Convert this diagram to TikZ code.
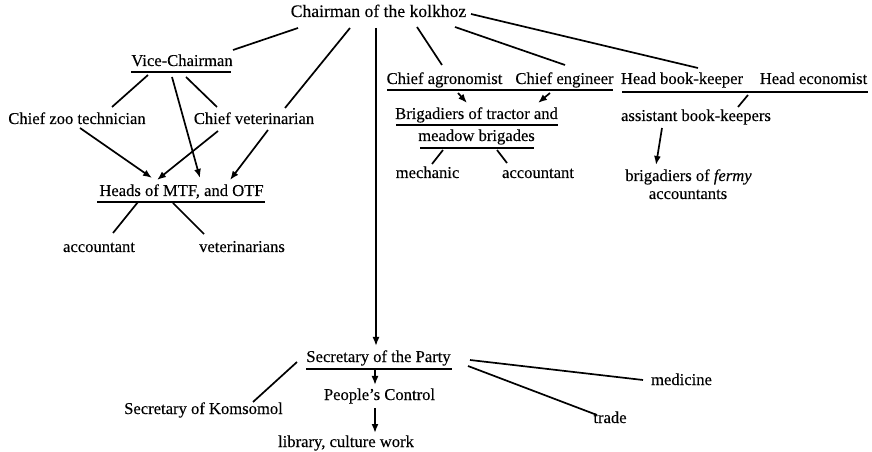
\documentclass[tikz,border=0pt]{standalone}
\usepackage{fontspec}
\setmainfont{Liberation Serif}[FakeBold=0.2]
\usetikzlibrary{arrows.meta}
\begin{document}
\begin{tikzpicture}[x=1bp,y=-1bp,
  lbl/.style={inner sep=0pt, text height=11.5bp, text depth=3.5bp,
              font=\fontsize{16.6bp}{19bp}\selectfont},
  title/.style={lbl, font=\fontsize{17.6bp}{20bp}\selectfont},
  ln/.style={line width=1.7bp},
  arr/.style={ln, -{Latex[length=9bp,width=7bp]}},
  uline/.style={line width=1.6bp}]
\useasboundingbox[fill=white] (0,0) rectangle (872,452);

% ---- nodes ----
\node[title] (chair) at (378.5,13) {Chairman of the kolkhoz};
\node[lbl] (vice)  at (182,62)   {Vice-Chairman};
\node[lbl] (zoo)   at (77,120)   {Chief zoo technician};
\node[lbl] (vet)   at (254,120)  {Chief veterinarian};
\node[lbl] (heads) at (181.5,192){Heads of MTF, and OTF};
\node[lbl] (acc1)  at (99,248)   {accountant};
\node[lbl] (vets)  at (242,248)  {veterinarians};

\node[lbl] (agr)   at (444.5,80) {Chief agronomist};
\node[lbl] (eng)   at (564.5,80) {Chief engineer};
\node[lbl] (hbk)   at (682,80)   {Head book-keeper};
\node[lbl] (hec)   at (813.5,80) {Head economist};
\node[lbl] (brig1) at (476.5,115){Brigadiers of tractor and};
\node[lbl] (brig2) at (476.5,137){meadow brigades};
\node[lbl] (mech)  at (427.5,174){mechanic};
\node[lbl] (acc2)  at (538,174)  {accountant};
\node[lbl] (asst)  at (696,117)  {assistant book-keepers};
\node[lbl] (ferm)  at (688.5,177){brigadiers of \textit{fermy}};
\node[lbl] (accs)  at (688,195)  {accountants};

\node[lbl] (party) at (378.5,358){Secretary of the Party};
\node[lbl] (pc)    at (379.5,396){People's Control};
\node[lbl] (lib)   at (346,443)  {library, culture work};
\node[lbl] (kom)   at (203.5,410){Secretary of Komsomol};
\node[lbl] (med)   at (681.5,381){medicine};
\node[lbl] (trade) at (610,419)  {trade};

% ---- underlines ----
\draw[uline] ([shift={(-51,10)}]vice.center) -- ([shift={(49,10)}]vice.center);
\draw[uline] ([shift={(-84.5,10)}]heads.center) -- ([shift={(83.5,10)}]heads.center);
\draw[uline] ([shift={(-57.5,10)}]agr.center) -- ([shift={(48.5,10)}]eng.center);
\draw[uline] ([shift={(-60,12)}]hbk.center) -- ([shift={(54.5,12)}]hec.center);
\draw[uline] ([shift={(-80.5,10)}]brig1.center) -- ([shift={(81.5,10)}]brig1.center);
\draw[uline] ([shift={(-56.5,11)}]brig2.center) -- ([shift={(57.5,11)}]brig2.center);
\draw[uline] ([shift={(-72.5,11)}]party.center) -- ([shift={(73.5,11)}]party.center);

% ---- chairman ----
\draw[ln]  ([shift={(-80.5,15)}]chair.center) -- ([shift={(51,-12)}]vice.center);
\draw[ln]  ([shift={(-28.5,15)}]chair.center) -- ([shift={(31,-12)}]vet.center);
\draw[arr] ([shift={(-2.5,15)}]chair.center) -- ([shift={(-2.5,-12)}]party.center);
\draw[ln]  ([shift={(38.5,14)}]chair.center) -- ([shift={(-2.5,-15)}]agr.center);
\draw[ln]  ([shift={(76.5,14)}]chair.center) -- ([shift={(0.5,-15)}]eng.center);
\draw[ln]  ([shift={(92.5,1)}]chair.center) -- ([shift={(16,-12)}]hbk.center);

% ---- livestock side ----
\draw[ln]  ([shift={(-34,13)}]vice.center) -- ([shift={(35,-13)}]zoo.center);
\draw[ln]  ([shift={(4,15)}]vice.center) -- ([shift={(-37,-13)}]vet.center);
\draw[arr] ([shift={(-10,15)}]vice.center) -- ([shift={(18.5,-14)}]heads.center);
\draw[arr] ([shift={(3,8)}]zoo.center) -- ([shift={(-29.5,-14)}]heads.center);
\draw[arr] ([shift={(-36,11)}]vet.center) -- ([shift={(-24.5,-12)}]heads.center);
\draw[arr] ([shift={(14,10)}]vet.center) -- ([shift={(48.5,-12)}]heads.center);
\draw[ln]  ([shift={(-43.5,10)}]heads.center) -- ([shift={(14,-15)}]acc1.center);
\draw[ln]  ([shift={(-8.5,11)}]heads.center) -- ([shift={(-38,-14)}]vets.center);

% ---- field side ----
\draw[arr] ([shift={(13.5,13)}]agr.center) -- ([shift={(-9.5,-12)}]brig1.center);
\draw[arr] ([shift={(-14.5,13)}]eng.center) -- ([shift={(61.5,-12)}]brig1.center);
\draw[ln]  ([shift={(-33.5,13)}]brig2.center) -- ([shift={(4.5,-10)}]mech.center);
\draw[ln]  ([shift={(20.5,13)}]brig2.center) -- ([shift={(-31,-11)}]acc2.center);
\draw[ln]  ([shift={(-65.5,15)}]hec.center) -- ([shift={(42,-10)}]asst.center);
\draw[arr] ([shift={(-34,11)}]asst.center) -- ([shift={(-32.5,-12)}]ferm.center);

% ---- party ----
\draw[arr] ([shift={(-3.5,12)}]party.center) -- ([shift={(-4.5,-11)}]pc.center);
\draw[arr] ([shift={(-4.5,12)}]pc.center) -- ([shift={(29,-10)}]lib.center);
\draw[ln]  ([shift={(-81.5,4)}]party.center) -- ([shift={(49.5,-8)}]kom.center);
\draw[ln]  ([shift={(91.5,2)}]party.center) -- ([shift={(-38.5,-1)}]med.center);
\draw[ln]  ([shift={(89.5,8)}]party.center) -- ([shift={(-13,-4)}]trade.center);
\end{tikzpicture}
\end{document}
